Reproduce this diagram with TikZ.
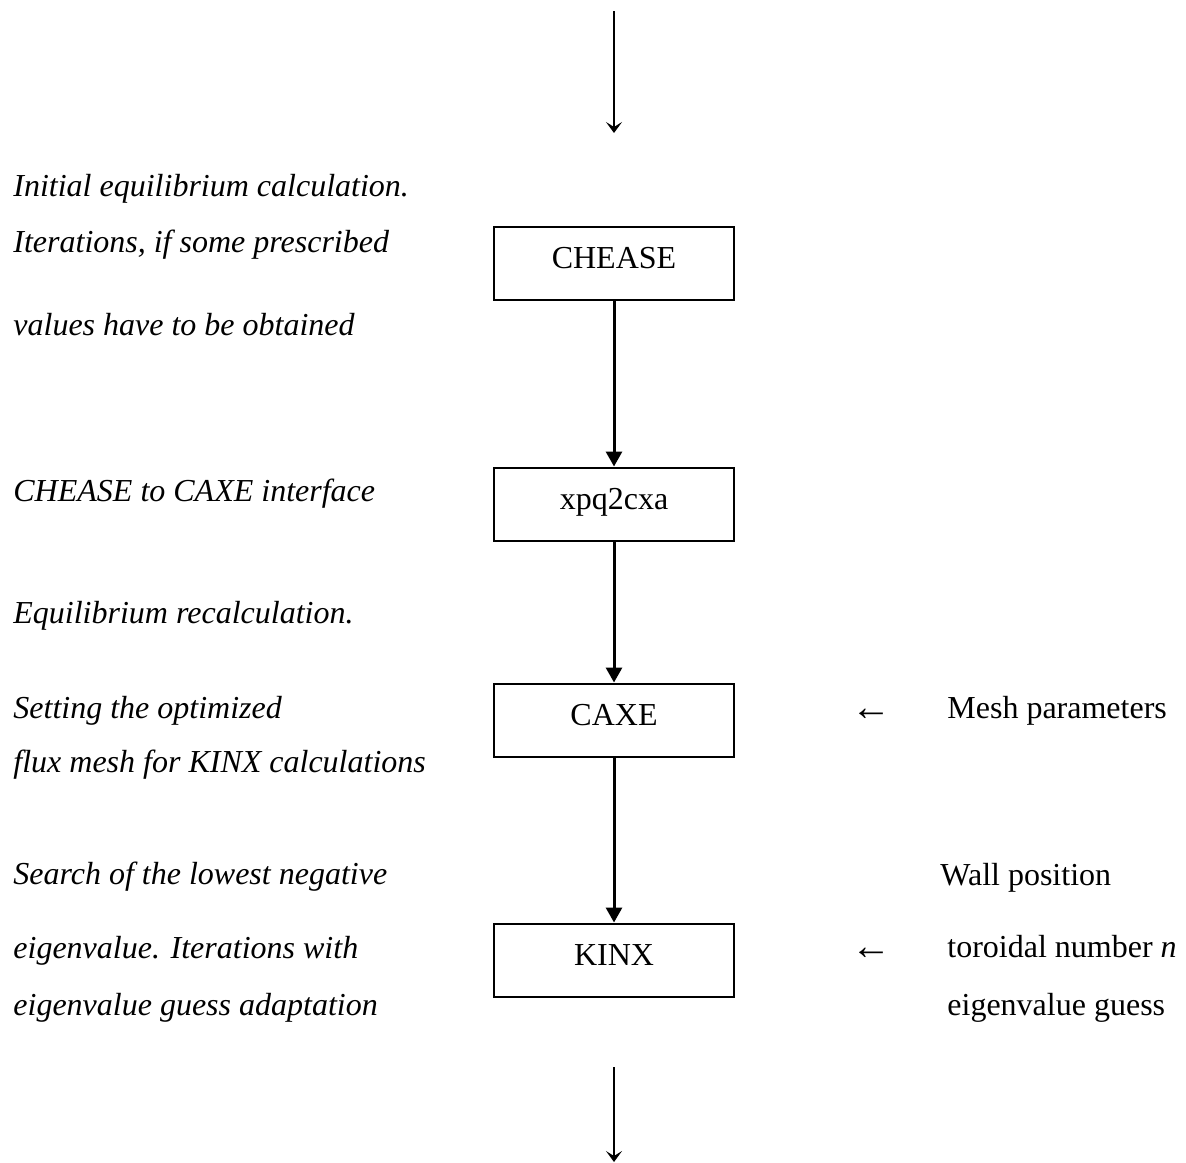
\documentclass[tikz,border=0pt]{standalone}
\usepackage{fontspec}
\setmainfont{Liberation Serif}
\usetikzlibrary{arrows.meta}
\begin{document}
\begin{tikzpicture}[x=0.5pt,y=-0.5pt,
  every node/.style={font=\fontsize{16pt}{19pt}\selectfont},
  note/.style={anchor=base west,inner sep=0pt,font=\fontsize{16pt}{19pt}\selectfont\itshape},
  param/.style={anchor=base west,inner sep=0pt},
  larrow/.style={anchor=base west,inner sep=0pt,font=\fontsize{20pt}{22pt}\selectfont},
  stepbox/.style={draw,line width=1pt,minimum width=120pt,minimum height=36.5pt,inner sep=0pt,text height=8pt,text depth=3pt},
  flow/.style={line width=1.5pt,-{Triangle[length=7.5pt,width=8pt]}},
  thin/.style={line width=0.65pt,-{Stealth[length=5.5pt,width=8pt,inset=2.5pt]}}]
\useasboundingbox (0,0) rectangle (1186,1162);

% boxes
\node[stepbox] (chease) at (614,263.5) {CHEASE};
\node[stepbox] (xpq) at (614,504) {xpq2cxa};
\node[stepbox] (caxe) at (614,720) {CAXE};
\node[stepbox] (kinx) at (614,960) {KINX};

% in/out arrows
\coordinate (topa) at (614,11);
\coordinate (topb) at (614,133);
\coordinate (bota) at (614,1067);
\coordinate (botb) at (614,1162);
\draw[thin] (topa) -- (topb);
\draw[thin] (bota) -- (botb);

% flow arrows
\draw[flow] (chease) -- (xpq);
\draw[flow] (xpq) -- (caxe);
\draw[flow] (caxe) -- (kinx);

% left notes
\node[note] (n1) at (13,196) {Initial equilibrium calculation.};
\node[note] (n2) at (13,252) {Iterations, if some prescribed};
\node[note] (n3) at (13,335) {values have to be obtained};
\node[note] (n4) at (13,501) {CHEASE to CAXE interface};
\node[note] (n5) at (13,623) {Equilibrium recalculation.};
\node[note] (n6) at (13,718) {Setting the optimized};
\node[note] (n7) at (13,772) {flux mesh for KINX calculations};
\node[note] (n8) at (13,884) {Search of the lowest negative};
\node[note] (n9) at (13,958) {eigenvalue. Iterations with};
\node[note] (n10) at (13,1015) {eigenvalue guess adaptation};

% right parameters
\node[larrow] (la1) at (851,720) {←};
\node[param] (p1) at (947,718) {Mesh parameters};
\node[param] (p2) at (940,885) {Wall position};
\node[larrow] (la2) at (851,959) {←};
\node[param] (p3) at (947,957) {toroidal number \textit{n}};
\node[param] (p4) at (947,1015) {eigenvalue guess};
\end{tikzpicture}
\end{document}
